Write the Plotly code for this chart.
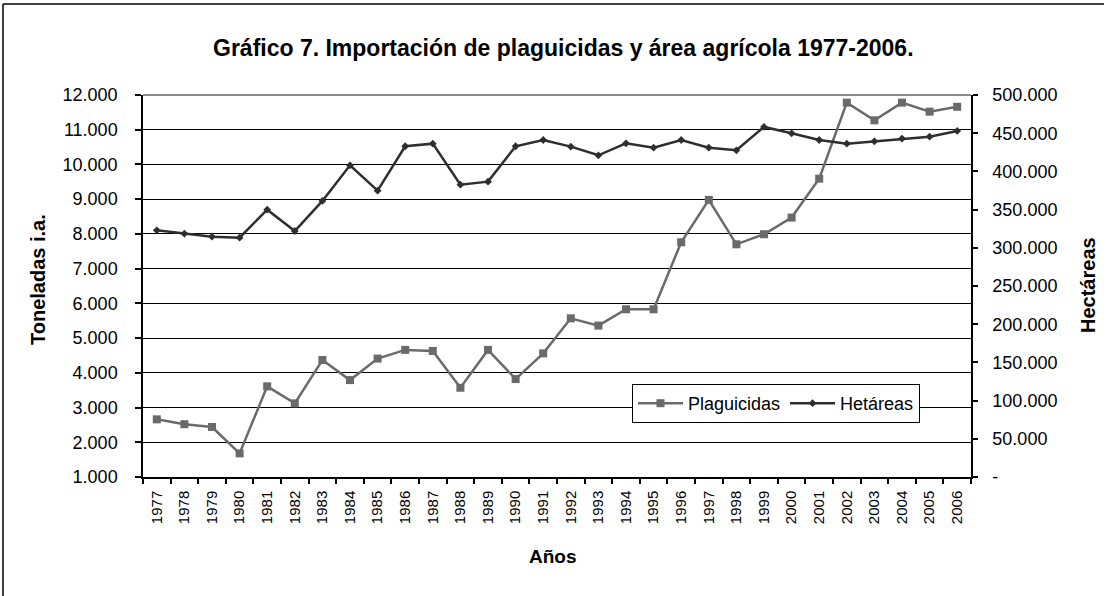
import plotly.graph_objects as go

years = [str(y) for y in range(1977, 2007)]

plaguicidas = [2660, 2520, 2440, 1680, 3610, 3120, 4370, 3790, 4410, 4660,
               4630, 3570, 4660, 3820, 4560, 5570, 5360, 5830, 5830, 7760,
               8980, 7700, 7990, 8470, 9590, 11780, 11270, 11780, 11520, 11660]

hectareas = [322900, 318500, 314600, 313300, 349900, 322000, 361300, 408000,
             374800, 432900, 436300, 382600, 386600, 432900, 441100, 432400,
             421100, 436800, 431000, 441100, 431000, 427600, 458200, 449900,
             441100, 436300, 439400, 442900, 445500, 453000]

left_ticks = list(range(1000, 12001, 1000))
right_tickvals = list(range(0, 500001, 50000))
right_ticktext = ["-", "50.000", "100.000", "150.000", "200.000", "250.000",
                  "300.000", "350.000", "400.000", "450.000", "500.000"]

FONT = "Arial, Liberation Sans, sans-serif"

fig = go.Figure()
fig.add_trace(go.Scatter(
    x=years, y=plaguicidas, name="Plaguicidas", mode="lines+markers",
    line=dict(color="#6a6a6a", width=2.5),
    marker=dict(symbol="square", size=8, color="#6a6a6a"),
    yaxis="y"))
fig.add_trace(go.Scatter(
    x=years, y=hectareas, name="Hetáreas", mode="lines+markers",
    line=dict(color="#2e2e2e", width=2.5),
    marker=dict(symbol="diamond", size=6, color="#2e2e2e"),
    yaxis="y2"))

L, R, T, B = 143, 137, 95, 119
W, H = 1108, 596
pw, ph = W - L - R, H - T - B

def px(x):
    return (x - L) / pw

def py(y):
    return (H - B - y) / ph

fig.update_layout(
    width=W, height=H,
    margin=dict(l=L, r=R, t=T, b=B, pad=0),
    paper_bgcolor="white", plot_bgcolor="white",
    separators=",.",
    font=dict(family=FONT, color="black", size=16),
    showlegend=True,
    legend=dict(orientation="h", x=px(632), y=py(384), xanchor="left", yanchor="top",
                bordercolor="black", borderwidth=1, bgcolor="white",
                font=dict(size=18, family=FONT), itemwidth=45, tracegroupgap=0),
    xaxis=dict(type="category", range=[-0.5, len(years) - 0.5],
               tickson="boundaries", ticks="outside", ticklen=5,
               tickcolor="black", tickwidth=1.5, showline=True, linecolor="black",
               linewidth=1.5, tickangle=-90, showgrid=False,
               tickfont=dict(size=15, family=FONT), ticklabelstandoff=6),
    yaxis=dict(range=[1000, 12000], tickvals=left_ticks, tickformat=",d",
               ticks="outside", ticklen=6, tickcolor="black", tickwidth=1.5,
               showline=True, linecolor="black", linewidth=1.5,
               showgrid=True, gridcolor="black", gridwidth=1.3,
               zeroline=False, tickfont=dict(size=18, family=FONT),
               ticklabelstandoff=14),
    yaxis2=dict(range=[0, 500000], tickvals=right_tickvals, ticktext=right_ticktext,
                overlaying="y", side="right", ticks="outside", ticklen=5,
                tickcolor="black", tickwidth=1.5, showline=True, linecolor="black",
                linewidth=1.5, showgrid=False, zeroline=False,
                tickfont=dict(size=18, family=FONT), ticklabelstandoff=11),
)

# top plot-area edge (gray) and outer frame lines
fig.add_shape(type="line", xref="paper", yref="paper", x0=0, x1=1, y0=1, y1=1,
              line=dict(color="#8c8c8c", width=2), layer="above")
fig.add_shape(type="line", xref="paper", yref="paper", x0=px(3), x1=px(1104),
              y0=py(4), y1=py(4), line=dict(color="black", width=1.5))
fig.add_shape(type="line", xref="paper", yref="paper", x0=px(3), x1=px(3),
              y0=py(4), y1=py(600), line=dict(color="black", width=1.5))

ann = dict(xref="paper", yref="paper", showarrow=False, xanchor="center", yanchor="middle")
fig.add_annotation(text="<b>Gráfico 7. Importación de plaguicidas y área agrícola 1977-2006.</b>",
                   x=px(563), y=py(48), font=dict(size=23, family=FONT), **ann)
fig.add_annotation(text="<b>Toneladas i.a.</b>", x=px(38), y=py(280), textangle=-90,
                   font=dict(size=20, family=FONT), **ann)
fig.add_annotation(text="<b>Hectáreas</b>", x=px(1088), y=py(285), textangle=-90,
                   font=dict(size=20, family=FONT), **ann)
fig.add_annotation(text="<b>Años</b>", x=px(553), y=py(556),
                   font=dict(size=19, family=FONT), **ann)

fig.write_html("out.html", config={"displayModeBar": False},
               post_script="document.body.style.margin='0';")
